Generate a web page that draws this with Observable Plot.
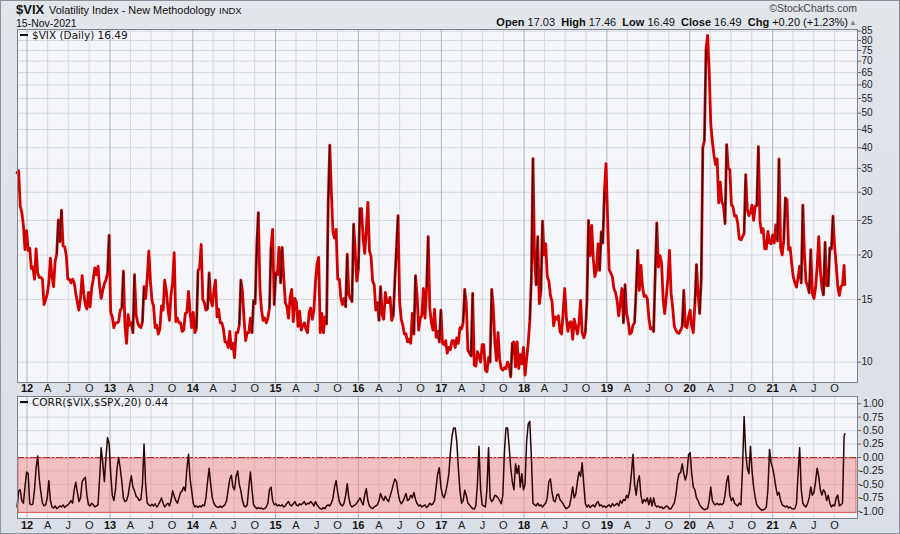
<!DOCTYPE html>
<html><head><meta charset="utf-8">
<script src="https://cdn.jsdelivr.net/npm/d3@7"></script>
<script src="https://cdn.jsdelivr.net/npm/@observablehq/plot@0.6"></script>
<style>
html,body{margin:0;padding:0;}
body{width:900px;height:534px;overflow:hidden;position:relative;background:linear-gradient(180deg,#e2e5ea 0%,#dadee6 100%);font-family:"Liberation Sans",Arial,sans-serif;color:#111;}
.abs{position:absolute;white-space:nowrap;}
.leg{font-family:"DejaVu Sans",sans-serif;font-size:10.5px;color:#111;}
.leg i{display:inline-block;width:8px;height:2px;background:#111;vertical-align:middle;margin-right:4px;position:relative;top:-1px;}
#border{position:absolute;left:0;top:0;width:898px;height:532px;border:1px solid #8c929c;pointer-events:none;}
svg{overflow:visible;}
</style></head>
<body>
<div id="top" class="abs" style="left:0;top:0"></div>
<div id="bot" class="abs" style="left:0;top:395px"></div>
<div class="abs" style="left:16px;top:3px;font-size:13px;font-weight:bold;line-height:13px;">$VIX</div>
<div class="abs" style="left:49px;top:4px;font-size:10.9px;line-height:12px;">Volatility Index - New Methodology</div>
<div class="abs" style="left:219px;top:6px;font-size:9.5px;line-height:10px;">INDX</div>
<div class="abs" style="left:16px;top:18px;font-size:10.5px;line-height:10px;">15-Nov-2021</div>
<div class="abs" style="right:43px;top:3px;font-size:10.5px;line-height:11px;color:#444;">©StockCharts.com</div>
<div class="abs" style="right:52px;top:17px;font-size:11px;line-height:11px;"><b>Open</b> 17.03 &nbsp;<b>High</b> 17.46 &nbsp;<b>Low</b> 16.49 &nbsp;<b>Close</b> 16.49 &nbsp;<b>Chg</b> +0.20 (+1.23%)</div>
<div class="abs" style="left:849px;top:17px;font-size:8px;line-height:11px;color:#888;">▲</div>
<div class="abs leg" style="left:20px;top:29px;line-height:12px;"><i></i>$VIX (Daily) 16.49</div>
<div class="abs leg" style="left:20px;top:396px;line-height:12px;"><i></i>CORR($VIX,$SPX,20) 0.44</div>
<div id="border"></div>
<script>
// ---- VIX weekly closes (spike days shown where the chart peaks) ----
const vix2011 = [34.0, 34.5, 27.5, 26.3, 24.3, 20.7, 23.4];
const vix2012 = [20.6,20.9,18.3,18.5, 17.1,20.8,17.8,17.3, 17.3,17.1,14.5,15.0,15.5, 16.7,19.6,17.4,16.3, 19.2,20.1,25.1,21.8, 26.7,21.2,21.1,20.0,17.1, 17.1,16.7,17.1,16.7, 15.6,14.7,14.0,15.2,17.5, 15.6,14.5,14.1,15.7, 14.3,16.1,17.1,18.4, 17.6,18.6,16.4,15.1,15.9, 16.6,17.0,17.8,22.7];
const vix2013 = [13.8,13.4,12.5,12.9, 12.9,13.0,14.0,14.2, 18.0,12.6,11.3,13.6,12.7, 12.9,12.1,17.6,13.6, 12.9,12.6,12.5,13.0,16.3, 15.1,17.2,20.5,16.9, 14.9,14.4,12.5,12.7, 12.0,12.4,14.4,14.0,17.0, 15.9,14.2,13.1,15.5, 16.7,20.3,13.0,13.3, 12.9,12.9,12.2,12.3,13.7, 13.8,15.8,13.8,12.5];
const vix2014 = [13.8,12.1,12.4,18.1,18.4, 21.4,15.0,14.7,14.0, 14.1,17.8,15.0,14.4, 15.9,17.0,13.4,14.1, 12.9,12.9,12.4,11.4,11.4, 11.0,12.2,10.9,11.3, 10.3,12.1,12.1,12.7, 17.0,15.8,13.2,11.5,12.1, 12.1,13.3,12.1,14.9, 14.6,21.2,26.3,16.1,14.0, 13.1,13.3,12.9,13.3, 14.2,21.1,23.6,14.5];
const vix2015 = [17.8,17.6,21.0,16.7,21.0, 17.3,14.7,14.3,13.3, 15.2,16.0,13.0,15.1, 14.7,12.6,13.9,12.3, 12.7,12.9,12.4,12.1,13.8, 14.2,13.2,14.0,16.8, 18.9,19.7,12.1,13.7,12.1, 13.4,12.8,28.0,40.7, 30.0,23.2,22.3,23.6, 17.1,17.1,15.1,14.5,15.1, 14.3,20.1,15.5,15.1, 14.8,24.4,20.7,16.9];
const vix2016 = [18.2,27.0,27.0,22.3,20.2, 23.4,28.1,20.5,19.8, 16.9,16.5,14.0,14.7, 13.1,16.3,13.6,13.2,15.7, 14.7,14.7,15.2,13.1, 13.5,17.0,21.0,25.8, 14.8,13.2,12.7,12.0,12.0, 11.4,11.6,11.3,13.7, 12.0,17.5,15.4,12.3,13.3, 13.5,16.1,13.3,16.2, 22.5,14.2,12.9,12.3, 14.1,11.75,12.2,11.4,14.0];
const vix2017 = [11.3,11.2,11.5,10.6, 11.0,10.85,11.5,11.5, 11.0,11.7,11.3,12.5,12.4, 12.9,16.0,14.6,10.8, 10.6,10.4,15.6,9.8, 9.75,10.7,10.4,10.0,11.2, 11.2,9.5,9.4,10.3, 10.0,16.0,14.3,11.3, 10.1,12.1,10.2,9.6,9.5, 9.65,9.6,10.0,9.8, 9.1,11.3,11.4,9.7, 11.4,9.6,10.5,9.9,11.0];
const vix2018 = [9.2,10.2,11.3,13.1, 17.3,37.3,19.5,16.5, 22.5,14.6,15.8,24.9,20.0, 21.5,17.4,16.9,15.4, 14.8,12.65,13.4,13.2, 13.5,12.2,12.0,13.8,16.1, 13.4,12.2,12.9,13.0, 11.6,13.2,12.6,12.0,12.9, 14.9,12.1,11.7,12.1, 14.8,25.0,19.9,24.2, 19.5,17.4,18.1,21.5,18.1, 23.2,21.6,30.1,36.1];
const vix2019 = [25.4,18.2,17.8,17.4, 16.1,15.7,14.9,13.5, 14.6,16.1,12.9,16.5,13.7, 13.0,12.0,12.1,12.7, 12.9,16.0,20.6,15.9,18.7, 16.3,15.3,15.4,15.1, 13.3,12.4,12.5,12.2, 17.6,24.6,18.5,19.9,19.0, 15.0,13.7,15.3,17.2, 20.6,15.6,14.25,12.65, 12.3,12.1,12.05,12.3,12.6, 15.9,12.6,12.5,13.4];
const vix2020 = [14.0,12.6,12.1,14.6,18.8, 15.5,13.7,17.1,40.1, 41.9,75.5,82.7,65.5, 46.8,41.7,38.2,35.9, 37.2,28.0,32.0,28.2,27.5, 24.5,40.8,35.1,34.7, 27.7,27.3,25.7,25.8,24.5, 22.2,22.05,22.5,23.0, 33.6,26.9,25.8,26.4, 27.6,25.0,27.4,27.55,40.3, 24.9,23.1,23.7,20.8, 20.8,23.3,21.6,21.5];
const vix2021 = [22.75,21.6,24.3,21.9,37.2, 20.9,20.0,22.05,28.9, 28.6,20.7,21.0,18.9, 17.3,16.7,16.25,17.3,18.6, 16.7,27.6,20.15,16.8, 16.4,15.65,20.7,15.6, 15.1,16.2,18.45,22.5,18.2, 16.15,15.45,21.7,16.4, 16.4,20.95,20.8,25.7, 21.15,18.8,16.3,15.4,16.3, 16.5,18.7];
const vixLast = ["2021-11-15", 16.49];

// ---- 20-day correlation $VIX vs $SPX, weekly readings ----
const corr2011 = [-0.92,-0.62,-0.6,-0.8,-0.85,-0.55,-0.27];
const corr2012 = [-0.3,-0.86,-0.88,-0.86,-0.6,-0.2,0.03,-0.4,-0.65,-0.85,-0.9,-0.88,-0.75,-0.43,-0.8,-0.92,-0.94,-0.9,-0.95,-0.93,-0.9,-0.92,-0.88,-0.93,-0.9,-0.88,-0.85,-0.8,-0.85,-0.6,-0.46,-0.65,-0.82,-0.75,-0.45,-0.4,-0.37,-0.7,-0.88,-0.9,-0.85,-0.88,-0.92,-0.9,-0.88,-0.4,0.18,-0.1,-0.45,0.0,0.37,0.25];
const corr2013 = [-0.3,-0.7,-0.8,-0.6,-0.2,0.0,-0.2,-0.45,-0.75,-0.82,-0.8,-0.7,-0.5,-0.34,-0.55,-0.62,-0.72,-0.75,-0.8,-0.78,-0.5,0.25,-0.5,-0.85,-0.88,-0.9,-0.87,-0.9,-0.86,-0.92,-0.88,-0.82,-0.75,-0.85,-0.92,-0.88,-0.85,-0.9,-0.8,-0.62,-0.72,-0.8,-0.85,-0.75,-0.65,-0.62,-0.55,-0.62,-0.2,0.06,-0.4,-0.62];
const corr2014 = [-0.85,-0.92,-0.9,-0.93,-0.9,-0.92,-0.88,-0.9,-0.75,-0.45,-0.2,-0.5,-0.75,-0.85,-0.9,-0.92,-0.93,-0.9,-0.93,-0.9,-0.88,-0.8,-0.6,-0.4,-0.33,-0.55,-0.6,-0.35,-0.25,-0.5,-0.62,-0.8,-0.9,-0.92,-0.88,-0.55,-0.27,-0.6,-0.88,-0.92,-0.95,-0.93,-0.95,-0.94,-0.96,-0.95,-0.92,-0.85,-0.6,-0.55,-0.8,-0.88];
const corr2015 = [-0.86,-0.9,-0.88,-0.9,-0.88,-0.92,-0.9,-0.85,-0.82,-0.88,-0.9,-0.86,-0.82,-0.88,-0.9,-0.86,-0.88,-0.85,-0.82,-0.88,-0.85,-0.86,-0.82,-0.85,-0.9,-0.82,-0.88,-0.92,-0.95,-0.96,-0.93,-0.95,-0.9,-0.88,-0.9,-0.85,-0.75,-0.55,-0.43,-0.65,-0.82,-0.88,-0.9,-0.85,-0.7,-0.49,-0.75,-0.88,-0.92,-0.9,-0.88,-0.85];
const corr2016 = [-0.8,-0.75,-0.82,-0.88,-0.7,-0.58,-0.8,-0.9,-0.93,-0.95,-0.92,-0.9,-0.88,-0.8,-0.67,-0.75,-0.8,-0.72,-0.78,-0.82,-0.72,-0.62,-0.5,-0.4,-0.45,-0.65,-0.8,-0.86,-0.82,-0.75,-0.67,-0.8,-0.78,-0.7,-0.75,-0.65,-0.78,-0.86,-0.9,-0.88,-0.92,-0.9,-0.88,-0.93,-0.9,-0.85,-0.88,-0.86,-0.8,-0.55,-0.3,-0.19,-0.55];
const corr2017 = [-0.7,-0.75,-0.65,-0.5,-0.3,0.1,0.4,0.55,0.55,0.3,-0.2,-0.62,-0.85,-0.8,-0.61,-0.7,-0.85,-0.88,-0.92,-0.95,-0.96,-0.9,-0.5,0.21,-0.6,-0.88,-0.9,-0.92,-0.6,0.18,-0.75,-0.82,-0.78,-0.7,-0.72,-0.75,-0.8,-0.86,-0.7,0.1,0.55,0.55,0.2,-0.2,-0.45,-0.6,-0.12,-0.3,-0.15,-0.55,-0.3,-0.6];
const corr2018 = [-0.5,0.3,0.62,0.67,0.0,-0.85,-0.88,-0.9,-0.85,-0.9,-0.88,-0.92,-0.88,-0.85,-0.75,-0.45,-0.4,-0.65,-0.8,-0.82,-0.7,-0.68,-0.78,-0.82,-0.86,-0.92,-0.95,-0.93,-0.9,-0.75,-0.55,-0.75,-0.68,-0.45,-0.27,-0.35,-0.1,-0.5,-0.86,-0.92,-0.88,-0.93,-0.9,-0.88,-0.92,-0.85,-0.82,-0.9,-0.88,-0.92,-0.9,-0.93];
const corr2019 = [-0.9,-0.88,-0.92,-0.86,-0.9,-0.88,-0.85,-0.9,-0.8,-0.85,-0.78,-0.8,-0.7,-0.75,-0.6,-0.3,0.06,-0.5,-0.7,-0.45,-0.34,-0.7,-0.85,-0.78,-0.82,-0.75,-0.88,-0.75,-0.9,-0.75,-0.88,-0.92,-0.9,-0.93,-0.92,-0.95,-0.93,-0.9,-0.92,-0.96,-0.95,-0.9,-0.85,-0.7,-0.45,-0.3,-0.28,-0.12,-0.3,-0.42,-0.3,0.05];
const corr2020 = [0.09,-0.3,-0.55,-0.6,-0.75,-0.8,-0.88,-0.92,-0.95,-0.97,-0.96,-0.95,-0.8,-0.55,-0.8,-0.86,-0.88,-0.85,-0.88,-0.86,-0.88,-0.85,-0.7,-0.45,-0.34,-0.7,-0.8,-0.75,-0.85,-0.88,-0.9,-0.85,-0.88,-0.2,0.76,0.1,-0.2,-0.3,0.21,-0.25,-0.55,-0.75,-0.88,-0.92,-0.95,-0.98,-0.97,-0.96,-0.92,-0.6,0.15,-0.1];
const corr2021 = [-0.2,-0.35,-0.55,-0.7,-0.65,-0.8,-0.88,-0.9,-0.92,-0.9,-0.94,-0.92,-0.95,-0.96,-0.95,-0.85,-0.3,0.18,-0.6,-0.85,-0.9,-0.92,-0.85,-0.75,-0.55,-0.7,-0.65,-0.45,-0.2,-0.35,-0.6,-0.7,-0.6,-0.65,-0.8,-0.7,-0.85,-0.92,-0.88,-0.9,-0.75,-0.7,-0.9,-0.88,-0.85,0.4];
const corrLast = ["2021-11-15", 0.44];

// ---- axis / reference values ----
const vixTicks = [10,15,20,25,30,35,40,45,50,55,60,65,70,75,80,85];
const corrTicks = [-1,-0.75,-0.5,-0.25,0,0.25,0.5,0.75,1];
const monthLetters = {3:"A", 6:"J", 9:"O"};
const corrBand = [0, -1.05];
const xDomain = [new Date("2011-11-20"), new Date("2022-01-10")];
const tickEnd = new Date("2021-12-31");
const vixDomain = [8.77, 85.9];
const corrDomain = [-1.134, 1.134];

function weekly(year, arr) {
  const start = year === 2011 ? new Date(Date.UTC(2011,10,18)) : d3.utcFriday.ceil(new Date(Date.UTC(year,0,1)));
  return arr.map((v,i) => ({date: d3.utcDay.offset(start, 7*i), value: v}));
}
const vixByYear = [[2011,vix2011],[2012,vix2012],[2013,vix2013],[2014,vix2014],[2015,vix2015],[2016,vix2016],[2017,vix2017],[2018,vix2018],[2019,vix2019],[2020,vix2020],[2021,vix2021]];
const corrByYear = [[2011,corr2011],[2012,corr2012],[2013,corr2013],[2014,corr2014],[2015,corr2015],[2016,corr2016],[2017,corr2017],[2018,corr2018],[2019,corr2019],[2020,corr2020],[2021,corr2021]];
const vixData = vixByYear.flatMap(([y,a]) => weekly(y,a)).concat([{date:new Date(vixLast[0]), value:vixLast[1]}]);
const corrData = corrByYear.flatMap(([y,a]) => weekly(y,a)).concat([{date:new Date(corrLast[0]), value:corrLast[1]}]);

const risers = [];
for (let i = 1; i < vixData.length; i++) {
  const a = vixData[i-1], b = vixData[i];
  if (b.value / a.value > 1.22) risers.push({x1:a.date, y1:a.value, x2:b.date, y2:b.value});
}

const quarterTicks = d3.utcMonth.every(3).range(xDomain[0], tickEnd);
const yearTicks = quarterTicks.filter(d => d.getUTCMonth() === 0);
const qTicks = quarterTicks.filter(d => d.getUTCMonth() !== 0);
const fmtQ = d => monthLetters[d.getUTCMonth()];
const fmtY = d => String(d.getUTCFullYear()).slice(2);

const gridLight = "#d3d7de", gridYear = "#aeb3bc", frameCol = "#7d838d";

function xAxes(pad) {
  return [
    Plot.axisX(qTicks, {anchor:"bottom", tickSize:0, tickPadding:pad, tickFormat:fmtQ, fontSize:11, fill:"#222"}),
    Plot.axisX(yearTicks, {anchor:"bottom", tickSize:0, tickPadding:pad, tickFormat:fmtY, fontSize:11, fontWeight:"bold", fill:"#111"})
  ];
}

const topPlot = Plot.plot({
  width: 900, height: 395,
  marginLeft: 17, marginRight: 43, marginTop: 29, marginBottom: 13,
  style: {background: "transparent", fontFamily: "Liberation Sans, Arial, sans-serif", overflow: "visible"},
  x: {type: "utc", domain: xDomain},
  y: {type: "log", domain: vixDomain},
  marks: [
    Plot.frame({fill: "#f5f6fa", stroke: "none"}),
    Plot.gridY(vixTicks, {stroke: gridLight, strokeOpacity: 1}),
    Plot.gridX(qTicks, {stroke: gridLight, strokeOpacity: 1}),
    Plot.gridX(yearTicks, {stroke: gridYear, strokeOpacity: 1}),
    Plot.lineY(vixData, {x: "date", y: "value", stroke: "#d40000", strokeWidth: 2.8, strokeLinejoin: "round"}),
    Plot.link(risers, {x1:"x1", y1:"y1", x2:"x2", y2:"y2", stroke: "#111", strokeWidth: 1.1}),
    Plot.frame({stroke: frameCol}),
    Plot.axisY(vixTicks, {anchor: "right", tickSize: 3, tickPadding: 1, fontSize: 10, fill: "#222", stroke: "#666"}),
    ...xAxes(2)
  ]
});
document.getElementById("top").appendChild(topPlot);

const botPlot = Plot.plot({
  width: 900, height: 139,
  marginLeft: 17, marginRight: 43, marginTop: 1, marginBottom: 16,
  style: {background: "transparent", fontFamily: "Liberation Sans, Arial, sans-serif", overflow: "visible"},
  x: {type: "utc", domain: xDomain},
  y: {domain: corrDomain},
  marks: [
    Plot.frame({fill: "#f5f6fa", stroke: "none"}),
    Plot.gridY(corrTicks, {stroke: gridLight, strokeOpacity: 1}),
    Plot.gridX(qTicks, {stroke: gridLight, strokeOpacity: 1}),
    Plot.gridX(yearTicks, {stroke: gridYear, strokeOpacity: 1}),
    Plot.rect([{y1: corrBand[0], y2: corrBand[1]}], {x1: () => xDomain[0], x2: () => xDomain[1], y1: "y1", y2: "y2", fill: "#f08a8a", fillOpacity: 0.5, stroke: "#e06060", strokeWidth: 1, inset: 1}),
    Plot.ruleY([corrBand[0]], {stroke: "#a03030", strokeDasharray: "7,2,2,2", strokeWidth: 1}),
    Plot.lineY(corrData, {x: "date", y: "value", stroke: "#2a0404", strokeWidth: 1.5, strokeLinejoin: "round"}),
    Plot.frame({stroke: frameCol}),
    Plot.axisY(corrTicks, {anchor: "right", tickSize: 3, tickPadding: 23, textAnchor: "end", tickFormat: d => d.toFixed(2), fontSize: 10.5, fill: "#222", stroke: "#666"}),
    ...xAxes(3)
  ]
});
document.getElementById("bot").appendChild(botPlot);
</script>
</body></html>
